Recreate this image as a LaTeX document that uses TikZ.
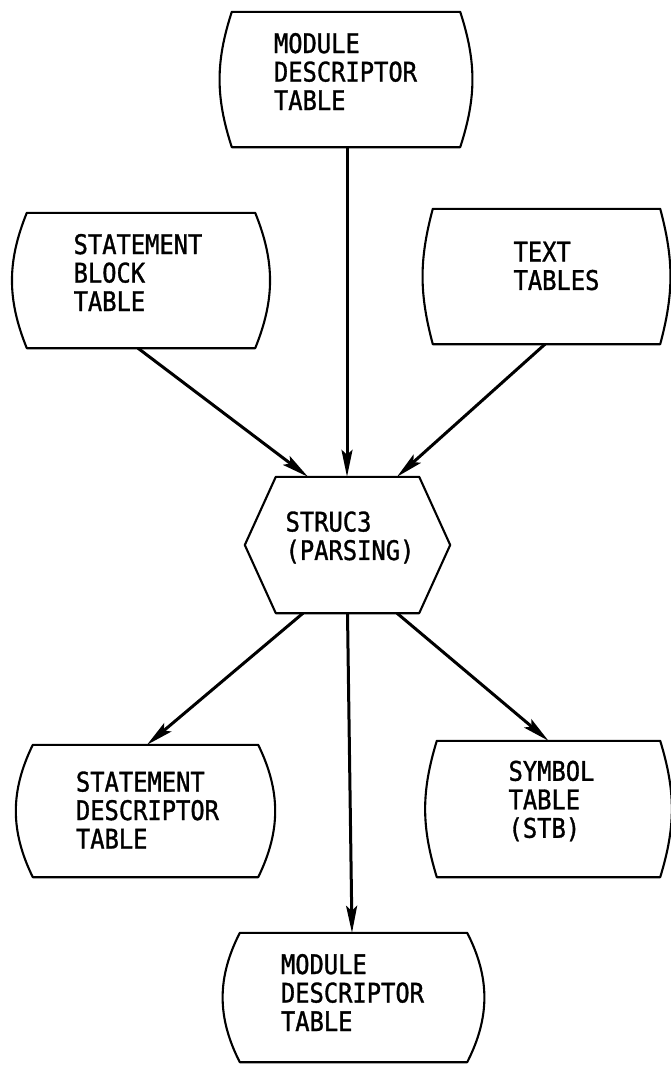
\documentclass[tikz,border=0pt]{standalone}
\usepackage{fontspec}
\newfontfamily\lblfont[FakeStretch=0.88,FakeBold=1.2]{DejaVu Sans Mono}
\usetikzlibrary{arrows.meta}

% data store symbol: straight top and bottom, both sides bulging outwards
\newcommand\storeoutline[2]{%
  \draw[outline] (#1.north west) -- (#1.north east)
    to[bend left=#2] (#1.south east) -- (#1.south west)
    to[bend left=#2] (#1.north west) -- (#1.north east);}

\begin{document}
\begin{tikzpicture}[x=1pt,y=-1pt,
  box/.style={rectangle, inner sep=0pt, draw=none},
  txt/.style={inner sep=0pt, align=left, font=\lblfont\fontsize{27}{28.5}\selectfont},
  outline/.style={line width=2.1pt, line join=round},
  arr/.style={line width=3pt, -{Stealth[length=27pt,width=11pt,inset=5pt]}}
]
\useasboundingbox[fill=white] (0,0) rectangle (671,1068);

% ---- stores ----
\node[box, minimum width=228pt, minimum height=135pt] (mdtin)  at (346,79.5)   {};
\node[box, minimum width=228pt, minimum height=135pt] (sbt)    at (141,280.5)  {};
\node[box, minimum width=227pt, minimum height=135pt] (tt)     at (546.5,276.5){};
\node[box, minimum width=225pt, minimum height=132pt] (sdt)    at (145.5,811)  {};
\node[box, minimum width=223pt, minimum height=136pt] (stb)    at (548.5,809)  {};
\node[box, minimum width=227pt, minimum height=129pt] (mdtout) at (353.5,997.5){};

\storeoutline{mdtin}{18}
\storeoutline{sbt}{22}
\storeoutline{tt}{15}
\storeoutline{sdt}{26}
\storeoutline{stb}{17}
\storeoutline{mdtout}{27}

% ---- process (hexagon) ----
\node[box, minimum width=143pt, minimum height=136pt] (struc) at (347.5,545) {};
\draw[outline] (struc.north west) -- (struc.north east) -- ([xshift=31pt]struc.east)
  -- (struc.south east) -- (struc.south west) -- ([xshift=-31pt]struc.west) -- cycle;

% ---- labels ----
\node[txt] (mdtin-t)  at (345.5,71.5)  {MODULE\\DESCRIPTOR\\TABLE};
\node[txt] (sbt-t)    at (138,272.5)   {STATEMENT\\BLOCK\\TABLE};
\node[txt] (tt-t)     at (556.5,266)   {TEXT\\TABLES};
\node[txt] (struc-t)  at (350,537.5)   {STRUC3\\(PARSING)};
\node[txt] (sdt-t)    at (147.5,810)   {STATEMENT\\DESCRIPTOR\\TABLE};
\node[txt] (stb-t)    at (551.5,801)   {SYMBOL\\TABLE\\(STB)};
\node[txt] (mdtout-t) at (352.5,992.5) {MODULE\\DESCRIPTOR\\TABLE};

% ---- data flow ----
\draw[arr] ([xshift=1pt]mdtin.south) -- ([xshift=-0.5pt]struc.north);
\draw[arr] ([xshift=-3pt]sbt.south) -- ([xshift=-39.5pt]struc.north);
\draw[arr] ([xshift=-1.5pt]tt.south) -- ([xshift=49.5pt]struc.north);
\draw[arr] ([xshift=-44.5pt]struc.south) -- ([xshift=1.5pt]sdt.north);
\draw[arr] (struc.south) -- ([xshift=-1.5pt]mdtout.north);
\draw[arr] ([xshift=49.5pt]struc.south) -- (stb.north);
\end{tikzpicture}
\end{document}
